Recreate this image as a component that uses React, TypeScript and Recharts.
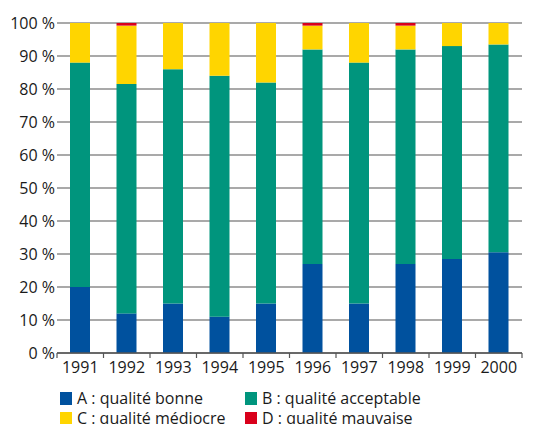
import React from 'react';
import { BarChart, Bar, XAxis, YAxis, CartesianGrid, Legend } from 'recharts';

const years = ['1991', '1992', '1993', '1994', '1995', '1996', '1997', '1998', '1999', '2000'];
const qualiteA = [20, 12, 15, 11, 15, 27, 15, 27, 28.5, 30.5];
const qualiteB = [68, 69.5, 71, 73, 67, 65, 73, 65, 64.5, 63];
const qualiteC = [12, 17.7, 14, 16, 18, 7.2, 12, 7.2, 7, 6.5];
const qualiteD = [0, 0.8, 0, 0, 0, 0.8, 0, 0.8, 0, 0];
const yTicks = [0, 10, 20, 30, 40, 50, 60, 70, 80, 90, 100];

const series = [
  { key: 'A', label: 'A : qualité bonne', color: '#00519e' },
  { key: 'B', label: 'B : qualité acceptable', color: '#00957d' },
  { key: 'C', label: 'C : qualité médiocre', color: '#ffd500' },
  { key: 'D', label: 'D : qualité mauvaise', color: '#d9001b' },
];

const data = years.map((year, i) => ({
  year,
  A: qualiteA[i],
  B: qualiteB[i],
  C: qualiteC[i],
  D: qualiteD[i],
}));

const FONT = '"Open Sans", sans-serif';
const CHART_W = 540;
const CHART_H = 424;
const Y_W = 57;
const RIGHT = 18;
const HALF_BAND = (CHART_W - Y_W - RIGHT) / years.length / 2;

function YearTick(props: any) {
  const { x, y, payload, index } = props;
  return (
    <g>
      <line x1={x - HALF_BAND} y1={y} x2={x - HALF_BAND} y2={y + 5} stroke="#555" strokeWidth={1.2} />
      {index === years.length - 1 && (
        <line x1={x + HALF_BAND} y1={y} x2={x + HALF_BAND} y2={y + 5} stroke="#555" strokeWidth={1.2} />
      )}
      <text x={x} y={y + 20} textAnchor="middle" fill="#1a1a1a" fontSize={16} fontFamily={FONT}>
        {payload.value}
      </text>
    </g>
  );
}

function LegendBox() {
  return (
    <div
      style={{
        height: 39,
        paddingLeft: 60,
        display: 'grid',
        gridTemplateColumns: '185px auto',
        gridAutoRows: '20px',
        fontFamily: FONT,
        fontSize: 16,
        color: '#1a1a1a',
        lineHeight: '20px',
        paddingTop: 3,
        boxSizing: 'border-box',
      }}
    >
      {series.map((s) => (
        <div key={s.key} style={{ display: 'flex', alignItems: 'center', whiteSpace: 'nowrap' }}>
          <span style={{ width: 12, height: 13, background: s.color, marginRight: 5, display: 'inline-block' }} />
          {s.label}
        </div>
      ))}
    </div>
  );
}

export default function App() {
  return (
    <div style={{ position: 'absolute', left: 0, top: 0, background: '#fff' }}>
      <BarChart
        width={CHART_W}
        height={CHART_H}
        data={data}
        margin={{ top: 23, right: RIGHT, left: 0, bottom: 0 }}
        barSize={20}
      >
        <CartesianGrid vertical={false} stroke="#8c8c8c" strokeWidth={1.5} />
        <XAxis
          dataKey="year"
          height={32}
          tickLine={false}
          tickSize={0}
          tickMargin={0}
          axisLine={{ stroke: '#555', strokeWidth: 1.5 }}
          tick={<YearTick />}
          interval={0}
        />
        <YAxis
          width={Y_W}
          domain={[0, 100]}
          ticks={yTicks}
          axisLine={false}
          tickLine={false}
          tickSize={0}
          tickMargin={2}
          tickFormatter={(v) => `${v} %`}
          tick={{ fill: '#1a1a1a', fontSize: 16, fontFamily: FONT }}
        />
        <Legend verticalAlign="bottom" align="left" wrapperStyle={{ left: 0, width: CHART_W }} content={<LegendBox />} />
        {series.map((s) => (
          <Bar key={s.key} dataKey={s.key} stackId="q" fill={s.color} isAnimationActive={false} />
        ))}
      </BarChart>
    </div>
  );
}
